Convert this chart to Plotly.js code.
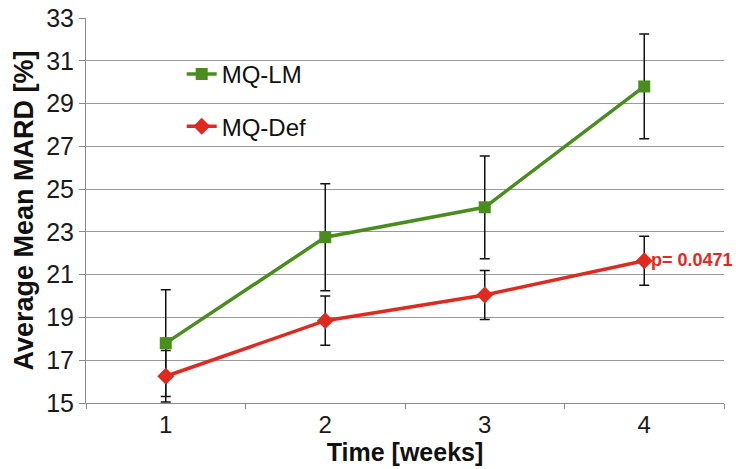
<!DOCTYPE html>
<html>
<head>
<meta charset="utf-8">
<script src="https://cdn.plot.ly/plotly-3.0.1.min.js"></script>
<style>html,body{margin:0;padding:0;background:#fff;}#chart{width:736px;height:469px;}</style>
</head>
<body>
<div id="chart"></div>
<script>
const weeks = ["1", "2", "3", "4"];
const lmValues = [17.8, 22.75, 24.15, 29.8];
const lmErrors = [2.5, 2.5, 2.4, 2.45];
const defValues = [16.25, 18.85, 20.05, 21.65];
const defErrors = [1.2, 1.15, 1.15, 1.15];
const yTicks = [15, 17, 19, 21, 23, 25, 27, 29, 31, 33];
const pLabel = "p= 0.0471";

const green = "#4b8c1f";
const red = "#e0291f";
const FONT = "'Liberation Sans', Arial, Helvetica, sans-serif";

const traces = [
  {
    x: weeks, y: lmValues, name: "MQ-LM", type: "scatter", mode: "lines+markers",
    legendgroup: "a",
    line: {color: green, width: 3.5},
    marker: {symbol: "square", size: 12, color: green},
    error_y: {type: "data", array: lmErrors, visible: true, color: "#111", thickness: 1.5, width: 5}
  },
  {
    x: weeks, y: defValues, name: "MQ-Def", type: "scatter", mode: "lines+markers",
    legendgroup: "b",
    line: {color: red, width: 3.5},
    marker: {symbol: "diamond", size: 13, color: red},
    error_y: {type: "data", array: defErrors, visible: true, color: "#111", thickness: 1.5, width: 5}
  }
];

const layout = {
  width: 736, height: 469,
  margin: {l: 86, r: 12, t: 18, b: 66},
  paper_bgcolor: "#fff", plot_bgcolor: "#fff",
  font: {family: FONT, size: 24, color: "#1a1a1a"},
  showlegend: true,
  legend: {
    x: 0.15, y: 0.912, xanchor: "left", yanchor: "top",
    bgcolor: "rgba(255,255,255,0)", font: {family: FONT, size: 24, color: "#111"},
    traceorder: "grouped", tracegroupgap: 18, itemwidth: 30
  },
  xaxis: {
    type: "category", range: [-0.5, 3.5],
    showgrid: false, showline: true, linecolor: "#8a8a8a", linewidth: 1,
    ticks: "outside", ticklen: 5, tickcolor: "#8a8a8a", tickson: "boundaries",
    tickfont: {family: FONT, size: 24, color: "#1a1a1a"},
    title: {text: "<b>Time [weeks]</b>", font: {family: FONT, size: 25, color: "#111"}, standoff: 3},
    fixedrange: true
  },
  yaxis: {
    range: [15, 33], tickvals: yTicks, ticktext: yTicks.map(String),
    showgrid: true, gridcolor: "#9a9a9a", gridwidth: 1,
    showline: true, linecolor: "#8a8a8a", linewidth: 1,
    ticks: "outside", ticklen: 6, tickcolor: "#8a8a8a",
    tickfont: {family: FONT, size: 25, color: "#1a1a1a"},
    zeroline: false,
    title: {text: "<b>Average Mean MARD [%]</b>", font: {family: FONT, size: 27, color: "#111"}, standoff: 4},
    fixedrange: true
  },
  annotations: [
    {
      x: 3, y: defValues[3], xref: "x", yref: "y", text: "<b>" + pLabel + "</b>",
      showarrow: false, xanchor: "left", yanchor: "middle", xshift: 5, yshift: 1,
      font: {family: FONT, size: 18, color: red}
    }
  ]
};

Plotly.newPlot("chart", traces, layout, {displayModeBar: false, staticPlot: true});
</script>
</body>
</html>
